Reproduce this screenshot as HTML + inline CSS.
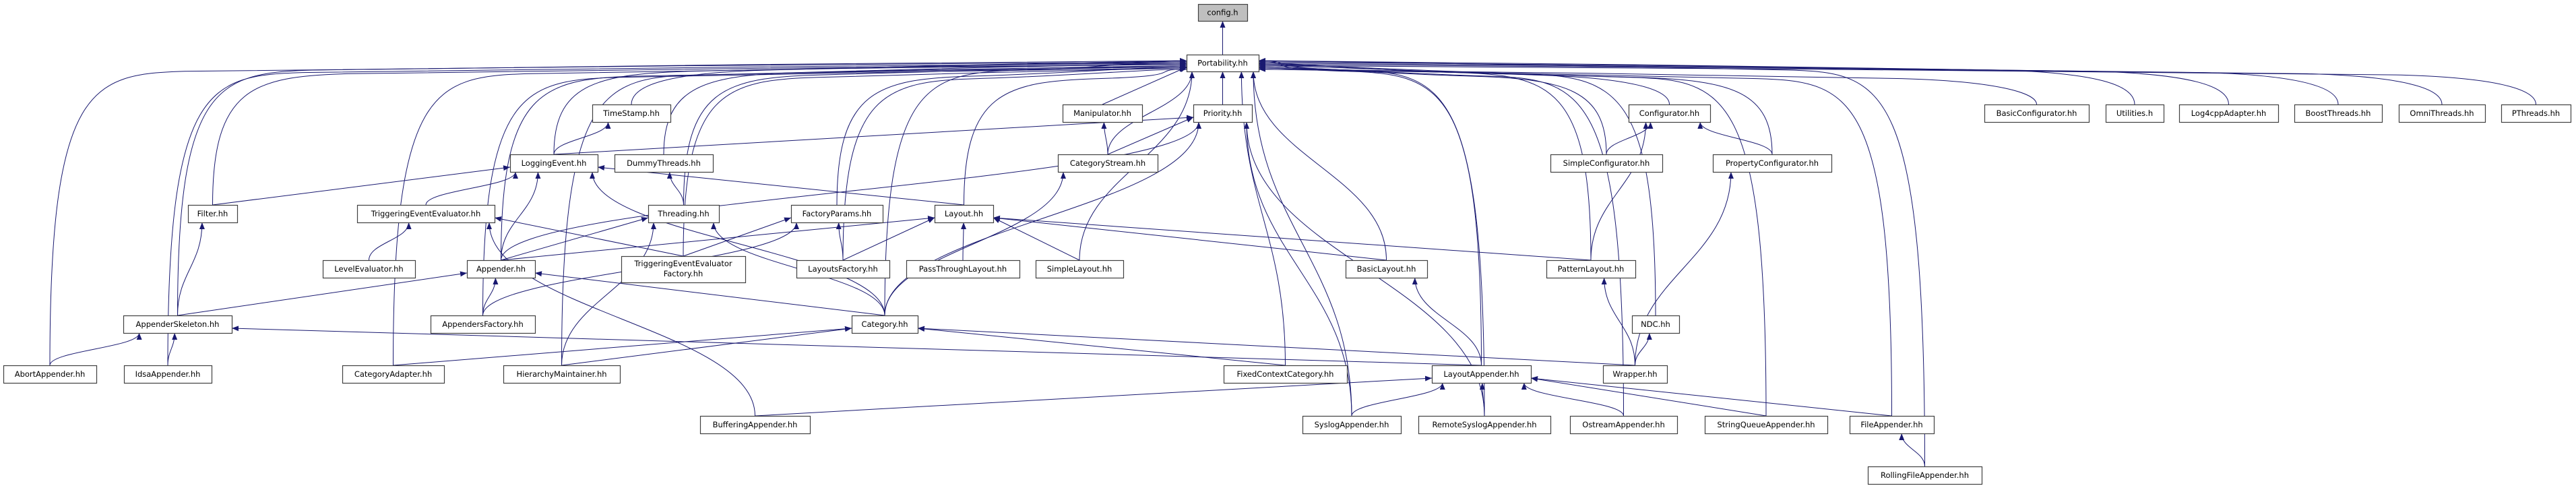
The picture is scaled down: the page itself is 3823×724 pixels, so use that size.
<!DOCTYPE html>
<html><head><meta charset="utf-8">
<style>
html,body{margin:0;padding:0;background:#fff;}
svg{display:block;}
text{font-family:"DejaVu Sans","Liberation Sans",sans-serif;font-size:11.5px;fill:#000;}
</style></head>
<body>
<svg id="g" xmlns="http://www.w3.org/2000/svg" width="3823" height="724" viewBox="0 0 3823 724">
<defs>
<marker id="a" viewBox="0 0 10 8" refX="10" refY="4" markerWidth="10" markerHeight="8" markerUnits="userSpaceOnUse" orient="auto">
<path d="M0,0 L10,4 L0,8 z" fill="#191970"/>
</marker>
</defs>
<g id="edges" fill="none" stroke="#191970" stroke-width="1"></g>
<g id="nodes"></g>
</svg>
<script>
var R=[[6,31],[81,106],[155,181],[229,255],[304,330],[386,412],[468,494],[542,568],[617,643],[692,718]];
var N={
"config.h":[1778,1851,0],
"Portability.hh":[1761,1868,1],
"TimeStamp.hh":[879,995,2],
"Manipulator.hh":[1577,1695,2],
"Priority.hh":[1771,1858,2],
"Configurator.hh":[2417,2538,2],
"BasicConfigurator.hh":[2945,3100,2],
"Utilities.h":[3125,3211,2],
"Log4cppAdapter.hh":[3234,3381,2],
"BoostThreads.hh":[3405,3535,2],
"OmniThreads.hh":[3560,3688,2],
"PThreads.hh":[3712,3815,2],
"LoggingEvent.hh":[757,887,3],
"DummyThreads.hh":[912,1058,3],
"CategoryStream.hh":[1570,1718,3],
"SimpleConfigurator.hh":[2301,2467,3],
"PropertyConfigurator.hh":[2542,2718,3],
"Filter.hh":[279,352,4],
"TriggeringEventEvaluator.hh":[530,734,4],
"Threading.hh":[962,1067,4],
"FactoryParams.hh":[1174,1310,4],
"Layout.hh":[1387,1474,4],
"LevelEvaluator.hh":[479,616,5],
"Appender.hh":[693,794,5],
"TEEF":[922,1106,5],
"LayoutsFactory.hh":[1182,1320,5],
"PassThroughLayout.hh":[1345,1513,5],
"SimpleLayout.hh":[1537,1667,5],
"BasicLayout.hh":[1997,2118,5],
"PatternLayout.hh":[2295,2427,5],
"AppenderSkeleton.hh":[183,344,6],
"AppendersFactory.hh":[639,794,6],
"Category.hh":[1264,1362,6],
"NDC.hh":[2422,2492,6],
"AbortAppender.hh":[5,143,7],
"IdsaAppender.hh":[184,314,7],
"CategoryAdapter.hh":[508,659,7],
"HierarchyMaintainer.hh":[747,920,7],
"FixedContextCategory.hh":[1816,1999,7],
"LayoutAppender.hh":[2125,2272,7],
"Wrapper.hh":[2379,2474,7],
"BufferingAppender.hh":[1039,1202,8],
"SyslogAppender.hh":[1933,2079,8],
"RemoteSyslogAppender.hh":[2105,2301,8],
"OstreamAppender.hh":[2330,2489,8],
"StringQueueAppender.hh":[2530,2712,8],
"FileAppender.hh":[2745,2870,8],
"RollingFileAppender.hh":[2772,2941,9]
};
function box(n){var b=N[n];var t=R[b[2]][0],bt=R[b[2]][1];if(n=="TEEF"){t=380;bt=419;}return {l:b[0],r:b[1],t:t,b:bt,cx:(b[0]+b[1])/2,cy:(t+bt)/2};}
var P="Portability.hh";
var E=[["Portability.hh","config.h"]];
["TimeStamp.hh","LoggingEvent.hh","DummyThreads.hh","Filter.hh","Threading.hh","FactoryParams.hh","TEEF","LayoutsFactory.hh","AppenderSkeleton.hh","AbortAppender.hh","IdsaAppender.hh","CategoryAdapter.hh","HierarchyMaintainer.hh","Appender.hh","AppendersFactory.hh","Manipulator.hh","Priority.hh","CategoryStream.hh","Layout.hh","SimpleLayout.hh","Category.hh","FixedContextCategory.hh","BasicLayout.hh","SyslogAppender.hh","RemoteSyslogAppender.hh","LayoutAppender.hh","PatternLayout.hh","NDC.hh","Configurator.hh","SimpleConfigurator.hh","PropertyConfigurator.hh","BasicConfigurator.hh","Utilities.h","Log4cppAdapter.hh","BoostThreads.hh","OmniThreads.hh","PThreads.hh","OstreamAppender.hh","StringQueueAppender.hh","FileAppender.hh","RollingFileAppender.hh"].forEach(function(c){E.push([c,P]);});
E=E.concat([
["LoggingEvent.hh","TimeStamp.hh"],["LoggingEvent.hh","Priority.hh"],["Filter.hh","LoggingEvent.hh"],
["TriggeringEventEvaluator.hh","LoggingEvent.hh"],["Appender.hh","LoggingEvent.hh"],["Layout.hh","LoggingEvent.hh"],
["Category.hh","LoggingEvent.hh"],["Threading.hh","DummyThreads.hh"],["Appender.hh","Threading.hh"],
["Category.hh","Threading.hh"],["HierarchyMaintainer.hh","Threading.hh"],["LevelEvaluator.hh","TriggeringEventEvaluator.hh"],
["TEEF","TriggeringEventEvaluator.hh"],["BufferingAppender.hh","TriggeringEventEvaluator.hh"],["TEEF","FactoryParams.hh"],
["LayoutsFactory.hh","FactoryParams.hh"],["AppendersFactory.hh","FactoryParams.hh"],["Appender.hh","Layout.hh"],
["LayoutsFactory.hh","Layout.hh"],["PassThroughLayout.hh","Layout.hh"],["SimpleLayout.hh","Layout.hh"],
["BasicLayout.hh","Layout.hh"],["PatternLayout.hh","Layout.hh"],["AppenderSkeleton.hh","Filter.hh"],
["AppenderSkeleton.hh","Appender.hh"],["AppendersFactory.hh","Appender.hh"],["Category.hh","Appender.hh"],
["AbortAppender.hh","AppenderSkeleton.hh"],["IdsaAppender.hh","AppenderSkeleton.hh"],["LayoutAppender.hh","AppenderSkeleton.hh"],
["CategoryAdapter.hh","Category.hh"],["HierarchyMaintainer.hh","Category.hh"],["FixedContextCategory.hh","Category.hh"],
["Wrapper.hh","Category.hh"],["BufferingAppender.hh","LayoutAppender.hh"],["CategoryStream.hh","Manipulator.hh"],
["CategoryStream.hh","Priority.hh"],["Category.hh","CategoryStream.hh"],["Appender.hh","Priority.hh"],
["Category.hh","Priority.hh"],["SyslogAppender.hh","Priority.hh"],["RemoteSyslogAppender.hh","Priority.hh"],
["SimpleConfigurator.hh","Configurator.hh"],["PropertyConfigurator.hh","Configurator.hh"],["PatternLayout.hh","Configurator.hh"],
["LayoutAppender.hh","BasicLayout.hh"],["Wrapper.hh","PatternLayout.hh"],["Wrapper.hh","NDC.hh"],
["Wrapper.hh","PropertyConfigurator.hh"],["SyslogAppender.hh","LayoutAppender.hh"],["RemoteSyslogAppender.hh","LayoutAppender.hh"],
["OstreamAppender.hh","LayoutAppender.hh"],["StringQueueAppender.hh","LayoutAppender.hh"],["FileAppender.hh","LayoutAppender.hh"],
["RollingFileAppender.hh","FileAppender.hh"]
]);
var NS="http://www.w3.org/2000/svg",eg=document.getElementById("edges"),ng=document.getElementById("nodes");
var li=0,ri=0;
E.forEach(function(e){
  var c=box(e[0]),p=box(e[1]),d;
  var sx=c.cx,sy=c.t;
  if(c.b<=p.t){ // child above? (not expected)
    sy=c.b;
  }
  if(e[1]==P && Math.abs(c.cx-p.cx)>250){
    var left=c.cx<p.cx;
    var k=left?li++:ri++;
    var ex=left?p.l:p.r, ey=90+ (k%8)*1.8;
    var cyy=ey+ (sy-ey)*0.08;
    d="M"+sx+","+sy+" C"+sx+","+(ey+35)+" "+(sx+(left?60:-60))+","+(ey+18)+" "+(sx+(left?200:-200))+","+(ey+14)+" S"+(ex+(left?-60:60))+","+ey+" "+ex+","+ey;
  } else if(p.b<=c.t){
    var ex=p.cx+Math.max(-p.r+p.cx+8,Math.min(p.r-p.cx-8,(c.cx-p.cx)*0.3));
    var ey=p.b;
    if(Math.abs(c.cx-p.cx)>(p.r-p.l)*1.5 && Math.abs(c.cy-p.cy)<120){
      ex=c.cx<p.cx?p.l:p.r; ey=p.cy+6;
      d="M"+sx+","+sy+" L"+ex+","+ey;
    } else {
      var m=(sy-ey)*0.45;
      d="M"+sx+","+sy+" C"+sx+","+(sy-m)+" "+ex+","+(ey+m)+" "+ex+","+ey;
    }
  } else {
    // same row or child above parent bottom: connect sides
    var ex=c.cx<p.cx?p.l:p.r, ey=p.cy+4;
    sx=c.cx<p.cx?c.r:c.l; sy=c.cy;
    d="M"+sx+","+sy+" L"+ex+","+ey;
  }
  var pa=document.createElementNS(NS,"path");pa.setAttribute("d",d);pa.setAttribute("marker-end","url(#a)");eg.appendChild(pa);
});
Object.keys(N).forEach(function(n){
  var b=box(n);
  var r=document.createElementNS(NS,"rect");
  r.setAttribute("x",b.l+0.5);r.setAttribute("y",b.t+0.5);r.setAttribute("width",b.r-b.l);r.setAttribute("height",b.b-b.t);
  r.setAttribute("fill",n=="config.h"?"#bfbfbf":"#fff");r.setAttribute("stroke","#404040");r.setAttribute("stroke-width","1.2");
  ng.appendChild(r);
  var lines=n=="TEEF"?["TriggeringEventEvaluator","Factory.hh"]:[n];
  lines.forEach(function(s,i){
    var t=document.createElementNS(NS,"text");
    t.setAttribute("x",b.cx);t.setAttribute("text-anchor","middle");
    t.setAttribute("y",lines.length==1?b.cy+4:b.t+15+i*15);
    t.textContent=s;ng.appendChild(t);
  });
});
</script>
</body></html>
